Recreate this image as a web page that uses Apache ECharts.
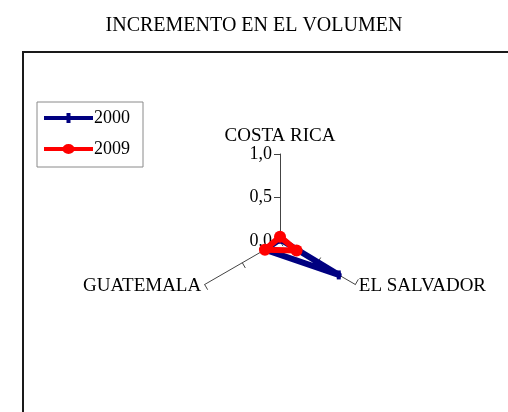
<!DOCTYPE html>
<html>
<head>
<meta charset="utf-8">
<script src="https://cdn.jsdelivr.net/npm/echarts@6/dist/echarts.min.js"></script>
<style>
html,body{margin:0;padding:0;background:#fff;}
#chart{width:508px;height:412px;}
</style>
</head>
<body>
<div id="chart"></div>
<script>
const titleText = 'INCREMENTO EN EL VOLUMEN';
// order as ECharts places them counter-clockwise: top, lower-left, lower-right
const categories = ['COSTA RICA', 'GUATEMALA', 'EL SALVADOR'];
const seriesNames = ['2000', '2009'];
const values2000 = [0.02, 0.2, 0.78];
const values2009 = [0.05, 0.2, 0.22];
const axisMin = 0;
const axisMax = 1;

const FONT = '"Liberation Serif", "DejaVu Serif", serif';
const fmt = v => Number(v).toFixed(1).replace('.', ',');

const iconSquareLine = 'path://M0 5 L22.5 5 L22.5 9 L0 9 Z M22.5 2 L26.5 2 L26.5 12 L22.5 12 Z M26.5 5 L49 5 L49 9 L26.5 9 Z';
const iconCircleLine = 'path://M0 5 L19 5 L19 9 L0 9 Z M30 5 L49 5 L49 9 L30 9 Z M18.5 7 A6 5 0 1 1 30.5 7 A6 5 0 1 1 18.5 7 Z';

const chart = echarts.init(document.getElementById('chart'), null, {renderer: 'canvas'});
const nameGaps = [18, 4, 4];

chart.setOption({
  backgroundColor: '#fff',
  animation: false,
  title: {
    text: titleText,
    left: 'center',
    top: 11,
    textStyle: {fontFamily: FONT, fontSize: 20, fontWeight: 'normal', color: '#000'}
  },
  graphic: [{
    type: 'rect',
    shape: {x: 23, y: 52, width: 500, height: 380},
    style: {fill: 'none', stroke: '#1a1a1a', lineWidth: 2},
    silent: true,
    z: -1
  }],
  legend: {
    orient: 'vertical',
    left: 37,
    top: 102,
    padding: [7, 13, 9, 7],
    itemGap: 13,
    itemWidth: 49,
    itemHeight: 10,
    borderColor: '#8a8a8a',
    borderWidth: 1,
    borderRadius: 0,
    textStyle: {fontFamily: FONT, fontSize: 18, color: '#000', padding: [0, 0, 0, -4]},
    data: [
      {name: seriesNames[0], icon: iconSquareLine},
      {name: seriesNames[1], icon: iconCircleLine}
    ]
  },
  radar: {
    center: [280, 241],
    radius: 87,
    shape: 'polygon',
    splitNumber: 2,
    startAngle: 90,
    indicator: categories.map((c, i) => ({
      name: c,
      min: axisMin,
      max: axisMax,
      nameGap: nameGaps[i],
      axisLabel: {show: i === 0}
    })),
    axisName: {
      color: '#000',
      fontFamily: FONT,
      fontSize: 19,
      verticalAlign: 'middle'
    },
    nameGap: 4,
    axisLine: {show: true, lineStyle: {color: '#444', width: 1}},
    axisTick: {show: true, length: 6, lineStyle: {color: '#444', width: 1}},
    axisLabel: {
      show: true,
      showMinLabel: true,
      showMaxLabel: true,
      formatter: v => fmt(v),
      color: '#000',
      fontFamily: FONT,
      fontSize: 18,
      margin: 8
    },
    splitLine: {show: false},
    splitArea: {show: false}
  },
  series: [{
    type: 'radar',
    data: [
      {
        name: seriesNames[0],
        value: values2000,
        symbol: 'rect',
        symbolSize: [4, 9],
        lineStyle: {color: '#000080', width: 6},
        itemStyle: {color: '#000080'}
      },
      {
        name: seriesNames[1],
        value: values2009,
        symbol: 'circle',
        symbolSize: 12,
        lineStyle: {color: '#ff0000', width: 6},
        itemStyle: {color: '#ff0000'}
      }
    ]
  }]
});
</script>
</body>
</html>
